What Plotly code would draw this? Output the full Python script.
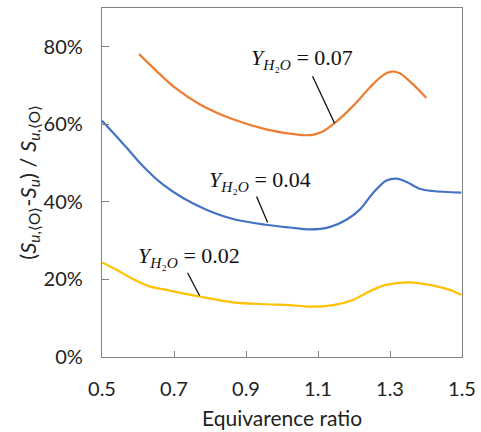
import plotly.graph_objects as go

# Orange: Y_H2O = 0.07
phi_07 = [0.603, 0.669, 0.702, 0.771, 0.864, 0.956, 1.021, 1.060, 1.085, 1.110, 1.146, 1.197, 1.244, 1.281, 1.304, 1.327, 1.364, 1.401]
val_07 = [78.1, 72.2, 69.5, 65.2, 61.3, 58.7, 57.6, 57.2, 57.3, 58.0, 60.3, 64.7, 69.5, 72.7, 73.6, 73.2, 70.3, 66.8]

# Blue: Y_H2O = 0.04
phi_04 = [0.5, 0.531, 0.568, 0.614, 0.669, 0.725, 0.790, 0.864, 0.956, 1.021, 1.077, 1.132, 1.179, 1.216, 1.253, 1.290, 1.318, 1.345, 1.382, 1.419, 1.498]
val_04 = [60.9, 57.8, 54.0, 49.2, 44.5, 41.0, 38.0, 35.6, 34.1, 33.4, 32.9, 33.5, 35.4, 38.0, 42.3, 45.5, 46.0, 45.2, 43.4, 42.8, 42.4]

# Yellow: Y_H2O = 0.02
phi_02 = [0.5, 0.540, 0.586, 0.632, 0.679, 0.771, 0.864, 0.956, 1.021, 1.077, 1.142, 1.197, 1.234, 1.281, 1.327, 1.364, 1.410, 1.466, 1.498]
val_02 = [24.4, 22.5, 20.1, 18.2, 17.3, 15.6, 14.1, 13.6, 13.4, 13.0, 13.4, 14.7, 16.5, 18.4, 19.1, 19.2, 18.6, 17.3, 16.0]

x_ticks = [0.5, 0.7, 0.9, 1.1, 1.3, 1.5]
x_tick_labels = ["0.5", "0.7", "0.9", "1.1", "1.3", "1.5"]
y_ticks = [0, 20, 40, 60, 80]
y_tick_labels = ["0%", "20%", "40%", "60%", "80%"]

x_title = "Equivarence ratio"
y_title = "(<i>S</i><sub><i>u</i>,⟨O⟩</sub>-<i>S</i><sub><i>u</i></sub>) / <i>S</i><sub><i>u</i>,⟨O⟩</sub>"

series = [
    (phi_07, val_07, "#ED7D31", "Y_H2O = 0.07"),
    (phi_04, val_04, "#4472C4", "Y_H2O = 0.04"),
    (phi_02, val_02, "#FFC000", "Y_H2O = 0.02"),
]

# label text positions (data) and pointed curve points (data)
labels = ["0.07", "0.04", "0.02"]
label_pos = [(1.055, 76.8), (0.938, 45.3), (0.741, 25.9)]
point_pos = [(1.146, 60.3), (0.96, 34.7), (0.771, 15.8)]
line_offsets = [(-22, 47), (-11, 26), (-12, 23)]  # pixels (x right, y up)

fig = go.Figure()
for xs, ys, col, nm in series:
    fig.add_trace(go.Scatter(x=xs, y=ys, mode="lines", name=nm,
                             line=dict(color=col, width=2.2, shape="spline", smoothing=0.9),
                             showlegend=False, hoverinfo="skip"))

serif = "Liberation Serif"
for lab, (tx, ty), (px, py), (ox, oy) in zip(labels, label_pos, point_pos, line_offsets):
    fig.add_annotation(x=tx, y=ty, xref="x", yref="y", showarrow=False,
                       text="<i>Y</i><sub><i>H</i>₂<i>O</i></sub> = " + lab,
                       font=dict(family=serif, size=22, color="#111111"))
    fig.add_shape(type="line", xref="x", yref="y",
                  xsizemode="pixel", ysizemode="pixel",
                  xanchor=px, yanchor=py, x0=ox, y0=oy, x1=0, y1=0,
                  line=dict(color="#111111", width=1.3))

sans = "Lato, Open Sans, sans-serif"
# axis titles as annotations for precise placement
fig.add_annotation(xref="paper", yref="paper", x=-0.205, y=0.5, xanchor="center", yanchor="middle",
                   textangle=-90, showarrow=False, text=y_title,
                   font=dict(family=sans, size=22, color="#222222"))
fig.add_annotation(xref="paper", yref="paper", x=0.5, y=-0.174, xanchor="center", yanchor="middle",
                   showarrow=False, text=x_title,
                   font=dict(family=sans, size=21, color="#222222"))

axis_font = dict(family=sans, size=20, color="#222222")
fig.update_layout(
    width=481, height=432,
    margin=dict(l=102, r=19, t=8, b=75, autoexpand=False),
    paper_bgcolor="white", plot_bgcolor="white",
    font=dict(family=sans, color="#222222"),
    xaxis=dict(range=[0.5, 1.5], tickvals=x_ticks, ticktext=x_tick_labels,
               ticks="inside", ticklen=6, tickcolor="#808080", tickwidth=1.2,
               showline=True, linecolor="#808080", linewidth=1.3, mirror=True,
               showgrid=False, zeroline=False, tickfont=axis_font,
               ticklabelstandoff=14, automargin=False),
    yaxis=dict(range=[0, 90], tickvals=y_ticks, ticktext=y_tick_labels,
               ticks="inside", ticklen=7, tickcolor="#808080", tickwidth=1.2,
               showline=True, linecolor="#808080", linewidth=1.3, mirror=True,
               showgrid=False, zeroline=False, tickfont=axis_font,
               ticklabelstandoff=14, automargin=False),
)

fig.write_html("out.html")
